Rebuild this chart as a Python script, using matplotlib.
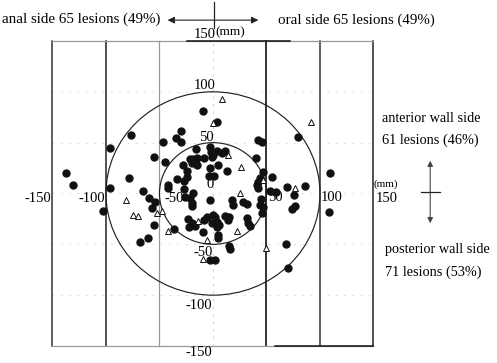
import matplotlib
matplotlib.use("Agg")
import matplotlib.pyplot as plt
from matplotlib.patches import Ellipse, FancyArrowPatch

plt.rcParams['font.family'] = ['Liberation Serif', 'DejaVu Serif']

# lesion positions (mm): x = oral(+)/anal(-), y = anterior(+)/posterior(-)
dot_x = [-137, -131, -96, -96, -103, -77, -78, -65, -60, -54, -57, -55, -68, -61,
         -55, -47, -45, -35, -30, -30, -36, -42, -42, -34, -28, -24, -27, -21, -19,
         -15, -8, -1, -16, -3, -2, 0, 4, 8, 11, -9, 4, 42, 46, 40, 79, 109, 55, 47,
         44, 42, 41, 42, 69, 86, 53, 59, 74, 77, 108, 68, 70, -15, -3, 5, 13, -24,
         -4, 1, -27, -19, -26, -21, -20, -20, -3, 18, 19, 28, 32, 44, 47, 46, -23,
         -20, -22, -17, -6, -8, 0, 2, 4, 6, 4, -1, 11, 15, 14, 32, 33, 35, 5, 5,
         -9, 15, 16, -3, 2, 76, -20, 45]
dot_y = [20, 8, 45, 5, -17, 58, 15, 2, -4, -8, -14, -31, -48, -44,
         36, 51, 31, 55, 61, 51, -35, 8, 5, 14, 28, 22, 12, 34, 34,
         35, 35, 36, 44, 46, 41, 38, 42, 40, 42, 81, 70, 53, 51, 35, 56, 20, 16, 21,
         15, 11, 8, 5, 6, 7, 2, 1, -15, -12, -18, -50, -73, 28, 25, 28, 22, 16,
         17, 17, 4, 0, -3, -4, -9, -12, -6, -6, -11, -8, -10, -11, -13, -19, -25,
         -29, -33, -32, -23, -26, -21, -23, -28, -31, -33, -29, -22, -23, -26, -24, -29, -32, -41, -44,
         -38, -52, -55, -65, -65, -1, 30, -5]
tri_x = [8, 0, 92, 14, 26, 47, 25, 77, -81, -75, -70, -52, -48, -42, -14, 22, -6, -9, 50]
tri_y = [93, 69, 70, 38, 26, 13, 0, 5, -6, -21, -22, -19, -17, -37, -27, -37, -46, -64, -54]

tick_vals = [-150, -100, -50, 0, 50, 100, 150]

fig = plt.figure(figsize=(4.97, 3.63), dpi=100)
ax = fig.add_axes([0, 0, 1, 1])
ax.set_xlim(-199, 265.4)
ax.set_ylim(-166.7, 190.3)
ax.axis('off')

# faint dashed grid
for v in [100, 50, 0, -50, -100]:
    ax.plot([-150, 150], [v, v], color='#d4d4d4', lw=0.6, ls=(0, (2, 8)), zorder=1)
ax.plot([0, 0], [-150, 150], color='#c8c8c8', lw=0.6, ls=(0, (3, 6)), zorder=1)

# vertical frame lines
vstyle = {-150: ('#333333', 1.1), -100: ('#333333', 1.2), -50: ('#999999', 0.9),
          50: ('#111111', 1.2), 100: ('#444444', 1.2), 150: ('#222222', 1.1)}
for v, (c, w) in vstyle.items():
    ax.plot([v, v], [-150, 150], color=c, lw=w, zorder=2)
# top and bottom edges
ax.plot([-150, 150], [150, 150], color='#999999', lw=0.9, zorder=2)
ax.plot([-24, 72], [150, 150], color='#111111', lw=1.1, zorder=2)
ax.plot([-150, 150], [-150, -150], color='#999999', lw=0.9, zorder=2)
ax.plot([58, 150], [-150, -150], color='#111111', lw=1.1, zorder=2)

# circles
for r in [50, 100]:
    ax.add_patch(Ellipse((0, 0), 2 * r, 2 * r, fill=False, ec='#222222', lw=0.85, zorder=2))

# points
ax.plot(dot_x, dot_y, 'o', ms=5.0, color='#111111', mec='#111111', zorder=4)
ax.plot(tri_x, tri_y, '^', ms=5.0, mfc='white', mec='#111111', mew=0.7, zorder=4)

fs = 10.5
lfs = 10.8
rfs = 10.3
# horizontal axis labels
ax.text(-151, -5, '-150', ha='right', va='center', fontsize=fs)
ax.text(-100.5, -5, '-100', ha='right', va='center', fontsize=fs)
ax.text(-36, -4.5, '-50', ha='center', va='center', fontsize=fs, zorder=3)
ax.text(-3, 9, '0', ha='center', va='center', fontsize=fs, zorder=3)
ax.text(58, -4, '50', ha='center', va='center', fontsize=fs, zorder=3)
ax.text(111, -4, '100', ha='center', va='center', fontsize=fs)
ax.text(162, -4.5, '150', ha='center', va='center', fontsize=fs)
ax.text(161, 9, '(mm)', ha='center', va='center', fontsize=8)
# vertical axis labels
ax.text(-8, 106, '100', ha='center', va='center', fontsize=fs, zorder=3)
ax.text(-6.5, 55, '50', ha='center', va='center', fontsize=fs, zorder=3)
ax.text(-9, -58, '-50', ha='center', va='center', fontsize=fs, zorder=3)
ax.text(-13, -110, '-100', ha='center', va='center', fontsize=fs)
ax.text(-13, -156, '-150', ha='center', va='center', fontsize=fs)
ax.text(-8, 156, '150', ha='center', va='center', fontsize=fs)
ax.text(2, 159, '(mm)', ha='left', va='center', fontsize=9.5)

# top arrow
ax.add_patch(FancyArrowPatch((-45, 170.5), (45, 170.5), arrowstyle='<|-|>',
                             mutation_scale=10, color='#222222', lw=0.8))
ax.plot([1, 1], [163, 188], color='#222222', lw=0.9)
ax.text(-49.5, 171.5, 'anal side 65 lesions (49%)', ha='right', va='center', fontsize=lfs)
ax.text(61, 170.5, 'oral side 65 lesions (49%)', ha='left', va='center', fontsize=lfs)

# right arrow
ax.add_patch(FancyArrowPatch((203, 35), (203, -32), arrowstyle='<|-|>',
                             mutation_scale=8, color='#444444', lw=0.8))
ax.plot([194, 212], [1.5, 1.5], color='#222222', lw=0.9)
ax.text(158, 74, 'anterior wall side', ha='left', va='center', fontsize=rfs)
ax.text(158, 52.5, '61 lesions (46%)', ha='left', va='center', fontsize=rfs)
ax.text(160.5, -55.5, 'posterior wall side', ha='left', va='center', fontsize=rfs)
ax.text(160.5, -77, '71 lesions (53%)', ha='left', va='center', fontsize=rfs)

fig.savefig('out.png', dpi=100, facecolor='white')
